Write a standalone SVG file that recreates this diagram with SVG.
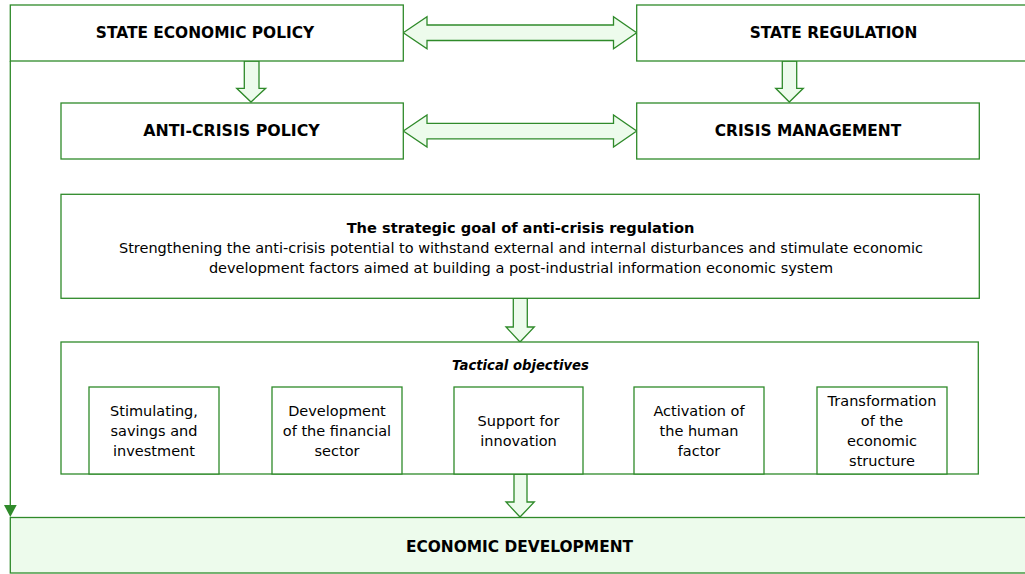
<svg xmlns="http://www.w3.org/2000/svg" width="1025" height="574" viewBox="0 0 1025 574">
<style>
.box{fill:#fff;stroke:#2f8a2a;stroke-width:1.3}
.fbox{fill:#edfbec;stroke:#2f8a2a;stroke-width:1.3}
.arr{fill:#edfbec;stroke:#2f8a2a;stroke-width:1.3;stroke-linejoin:miter}
.ln{fill:none;stroke:#2f8a2a;stroke-width:1.3}
text{font-family:"DejaVu Sans","Verdana",sans-serif;fill:#000;text-anchor:middle}
.b{font-weight:bold;font-size:15.4px}
.t{font-size:14.5px}
.s{font-size:14.5px}
</style>
<g id="connectors">
<path class="ln" d="M10.3,61 V507"/>
<path d="M4,505 L16.7,505 L10.3,517 Z" fill="#2f8a2a"/>
<path class="arr" d="M403.3,32.7 L427,16.7 L427,25 L613.5,25 L613.5,16.7 L636.7,32.7 L613.5,48.7 L613.5,40.5 L427,40.5 L427,48.7 Z"/>
<path class="arr" d="M403.3,131 L427,115 L427,123.3 L613.5,123.3 L613.5,115 L636.7,131 L613.5,147 L613.5,138.8 L427,138.8 L427,147 Z"/>
<path class="arr" d="M244.3,61 L259,61 L259,88.3 L265.7,88.3 L251,102 L236.7,88.3 L244.3,88.3 Z"/>
<path class="arr" d="M782.3,61 L796.7,61 L796.7,88.3 L803.3,88.3 L789.3,102 L775.7,88.3 L782.3,88.3 Z"/>
<path class="arr" d="M513.3,298.3 L527.3,298.3 L527.3,327 L534.3,327 L520,342 L506,327 L513.3,327 Z"/>
<path class="arr" d="M514,474 L527,474 L527,502 L534.3,502 L520,517 L506,502 L514,502 Z"/>
</g>
<g id="state-economic-policy">
<rect class="box" x="10.3" y="5" width="393" height="56"/>
<text class="b" x="205" y="38.3">STATE ECONOMIC POLICY</text>
</g>
<g id="state-regulation">
<rect class="box" x="636.7" y="5" width="400" height="56"/>
<text class="b" x="833.5" y="38.3">STATE REGULATION</text>
</g>
<g id="anti-crisis-policy">
<rect class="box" x="61" y="103" width="342.3" height="56"/>
<text class="b" x="231.5" y="136" style="font-size:15.8px">ANTI-CRISIS POLICY</text>
</g>
<g id="crisis-management">
<rect class="box" x="636.7" y="103" width="342.6" height="56"/>
<text class="b" x="808" y="136">CRISIS MANAGEMENT</text>
</g>
<g id="strategic-goal">
<rect class="box" x="61" y="194.3" width="918.3" height="104"/>
<text class="b" x="520.5" y="233" style="font-size:14.6px">The strategic goal of anti-crisis regulation</text>
<text class="t" x="521" y="252.5">Strengthening the anti-crisis potential to withstand external and internal disturbances and stimulate economic</text>
<text class="t" x="521" y="272.5">development factors aimed at building a post-industrial information economic system</text>
</g>
<g id="tactical-objectives">
<rect class="box" x="61" y="342" width="917.3" height="132"/>
<text class="b" x="520.5" y="369.5" font-style="italic" style="font-size:13.2px">Tactical objectives</text>
</g>
<g id="obj-1">
<rect class="box" x="89" y="387" width="130" height="87"/>
<text class="s" x="154" y="416">Stimulating,</text>
<text class="s" x="154" y="436">savings and</text>
<text class="s" x="154" y="456">investment</text>
</g>
<g id="obj-2">
<rect class="box" x="272" y="387" width="130" height="87"/>
<text class="s" x="337" y="416">Development</text>
<text class="s" x="337" y="436">of the financial</text>
<text class="s" x="337" y="456">sector</text>
</g>
<g id="obj-3">
<rect class="box" x="454" y="387" width="129" height="87"/>
<text class="s" x="518.5" y="426">Support for</text>
<text class="s" x="518.5" y="446">innovation</text>
</g>
<g id="obj-4">
<rect class="box" x="634" y="387" width="130" height="87"/>
<text class="s" x="699" y="416">Activation of</text>
<text class="s" x="699" y="436">the human</text>
<text class="s" x="699" y="456">factor</text>
</g>
<g id="obj-5">
<rect class="box" x="817" y="387" width="130" height="87"/>
<text class="s" x="882" y="406">Transformation</text>
<text class="s" x="882" y="426">of the</text>
<text class="s" x="882" y="446">economic</text>
<text class="s" x="882" y="466">structure</text>
</g>
<g id="economic-development">
<rect class="fbox" x="10.3" y="517.5" width="1020" height="55.5"/>
<text class="b" x="519.5" y="552">ECONOMIC DEVELOPMENT</text>
</g>
</svg>
